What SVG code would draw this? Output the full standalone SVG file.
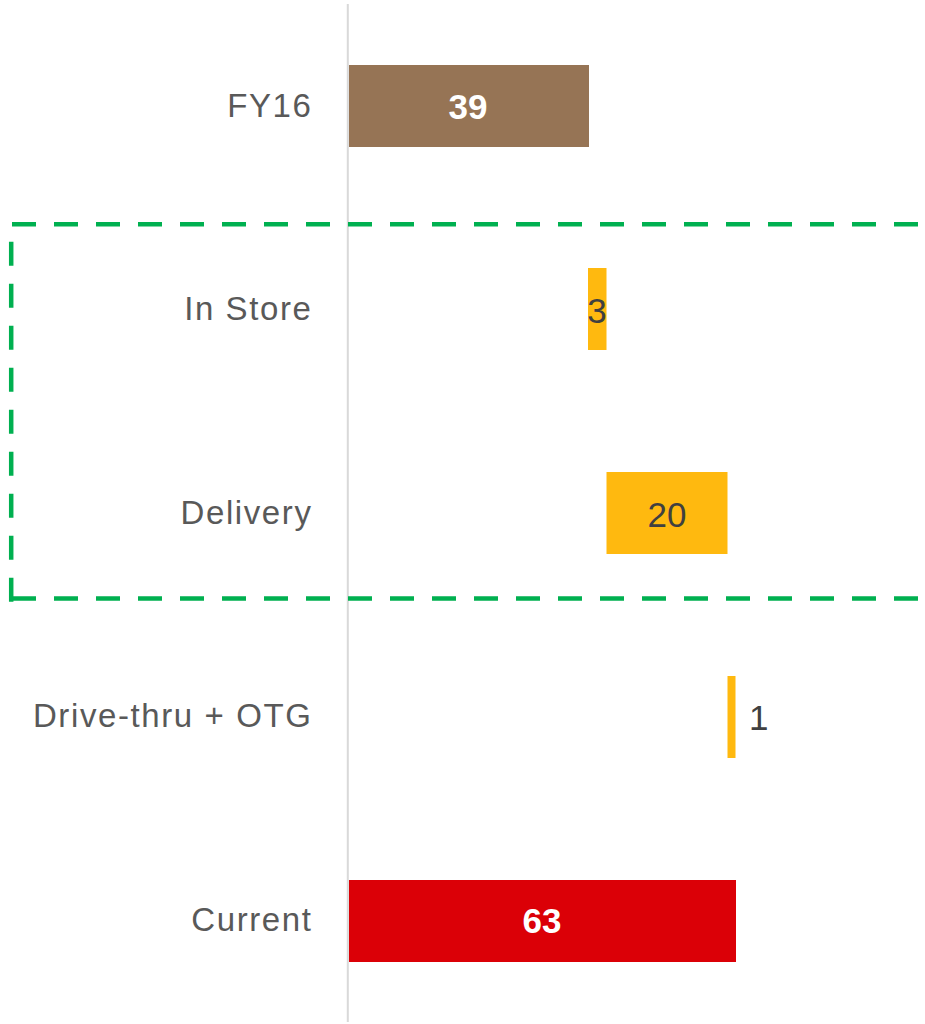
<svg xmlns="http://www.w3.org/2000/svg" width="925" height="1024" viewBox="0 0 925 1024">
  <style>
    .lbl { font-family: "Liberation Sans", Arial, sans-serif; font-size: 33px; fill: #595959; text-anchor: end; letter-spacing: 1.6px; }
    .val { font-family: "Liberation Sans", Arial, sans-serif; font-size: 35px; fill: #404040; text-anchor: middle; }
    .valb { font-family: "Liberation Sans", Arial, sans-serif; font-size: 35px; font-weight: bold; fill: #ffffff; text-anchor: middle; }
    .dash { stroke: #00b050; stroke-width: 4.5; stroke-dasharray: 24 18; fill: none; }
    .yellow { fill: #ffb90f; }
  </style>
  <rect width="925" height="1024" fill="#ffffff"/>
  <g id="axis">
    <line x1="347.8" y1="4" x2="347.8" y2="1022" stroke="#d9d9d9" stroke-width="2"/>
  </g>
  <g id="highlight-box">
    <line class="dash" x1="12" y1="224.3" x2="925" y2="224.3"/>
    <line class="dash" x1="12" y1="598.5" x2="925" y2="598.5"/>
    <line class="dash" x1="11.2" y1="601.7" x2="11.2" y2="224"/>
  </g>
  <g id="fy16">
    <text class="lbl" x="312.5" y="116.7">FY16</text>
    <rect x="349" y="65" width="240" height="82" fill="#967455"/>
    <text class="valb" x="468" y="119">39</text>
  </g>
  <g id="in-store">
    <text class="lbl" x="312.5" y="320">In Store</text>
    <rect class="yellow" x="588" y="268" width="18.5" height="82"/>
    <text class="val" x="597" y="322.7">3</text>
  </g>
  <g id="delivery">
    <text class="lbl" x="312.5" y="524">Delivery</text>
    <rect class="yellow" x="606.5" y="472" width="121" height="82"/>
    <text class="val" x="667" y="526.7">20</text>
  </g>
  <g id="drive-thru">
    <text class="lbl" x="312.5" y="726.7">Drive-thru + OTG</text>
    <rect class="yellow" x="727.5" y="676" width="8" height="82"/>
    <text class="val" x="749" y="730" style="text-anchor:start">1</text>
  </g>
  <g id="current">
    <text class="lbl" x="312.5" y="931">Current</text>
    <rect x="349" y="880" width="387" height="82" fill="#db0007"/>
    <text class="valb" x="542" y="933.3">63</text>
  </g>
  <g id="connectors"></g>
</svg>
